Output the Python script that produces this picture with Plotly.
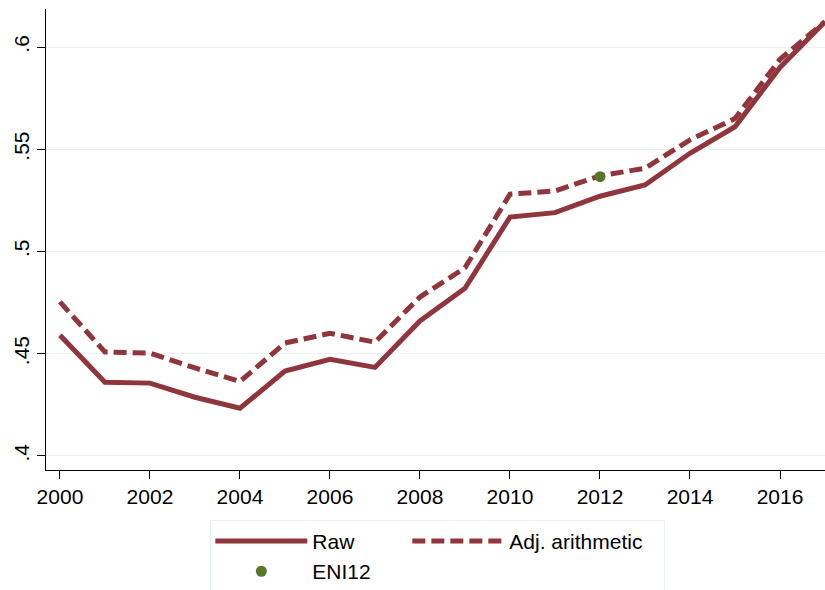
import plotly.graph_objects as go

years = list(range(2000, 2018))
raw = [0.459, 0.436, 0.4356, 0.4287, 0.4233, 0.4415, 0.4472, 0.4433, 0.466, 0.482,
       0.5168, 0.519, 0.527, 0.5325, 0.548, 0.561, 0.590, 0.6124]
adj = [0.4753, 0.4508, 0.4503, 0.443, 0.4364, 0.4552, 0.460, 0.4556, 0.4777, 0.492,
       0.528, 0.5296, 0.537, 0.5407, 0.5546, 0.565, 0.594, 0.6124]
eni_year = [2012]
eni_val = [0.5366]

ytick_vals = [0.4, 0.45, 0.5, 0.55, 0.6]
ytick_text = [".4", ".45", ".5", ".55", ".6"]

RED = "rgb(144,53,59)"
GREEN = "rgb(86,118,42)"
GRID = "rgb(234,242,243)"
FONT = "Liberation Sans, Arial, sans-serif"

fig = go.Figure()
fig.add_trace(go.Scatter(x=years, y=raw, mode="lines", name="Raw",
                         line=dict(color=RED, width=5), legendgroup="g1",
                         legendwidth=90))
fig.add_trace(go.Scatter(x=years, y=adj, mode="lines", name="Adj. arithmetic",
                         line=dict(color=RED, width=5, dash="13px,6px"), legendgroup="g2",
                         legendwidth=150))
fig.add_trace(go.Scatter(x=eni_year, y=eni_val, mode="markers", name="ENI12",
                         marker=dict(color=GREEN, size=11), legendgroup="g1",
                         legendwidth=90))

fig.update_layout(
    width=825, height=590,
    margin=dict(l=46, r=0, t=9, b=120, autoexpand=False),
    paper_bgcolor="white", plot_bgcolor="white",
    font=dict(family=FONT, size=21, color="black"),
    showlegend=True,
    legend=dict(orientation="h", traceorder="grouped",
                x=0.503, xanchor="center", y=-0.108, yanchor="top",
                bordercolor=GRID, borderwidth=1,
                itemwidth=92,
                font=dict(family=FONT, size=21, color="black")),
)
fig.update_xaxes(range=[1999.69, 2017], tickmode="array", tickvals=list(range(2000, 2018, 2)),
                 ticks="outside", ticklen=8, tickcolor="black", showline=True,
                 linecolor="black", linewidth=1, showgrid=False, zeroline=False,
                 automargin=False,
                 tickfont=dict(family=FONT, size=21, color="black"))
fig.update_yaxes(range=[0.3931, 0.6186], tickmode="array", tickvals=ytick_vals,
                 ticktext=ytick_text, tickangle=-90,
                 ticks="outside", ticklen=8, tickcolor="black", showline=True,
                 linecolor="black", linewidth=1, showgrid=True, gridcolor=GRID,
                 gridwidth=1, zeroline=False, automargin=False,
                 tickfont=dict(family=FONT, size=21, color="black"))

fig.write_html("out.html", config={"displayModeBar": False},
               post_script="document.body.style.margin='0';document.body.style.overflow='hidden';")
